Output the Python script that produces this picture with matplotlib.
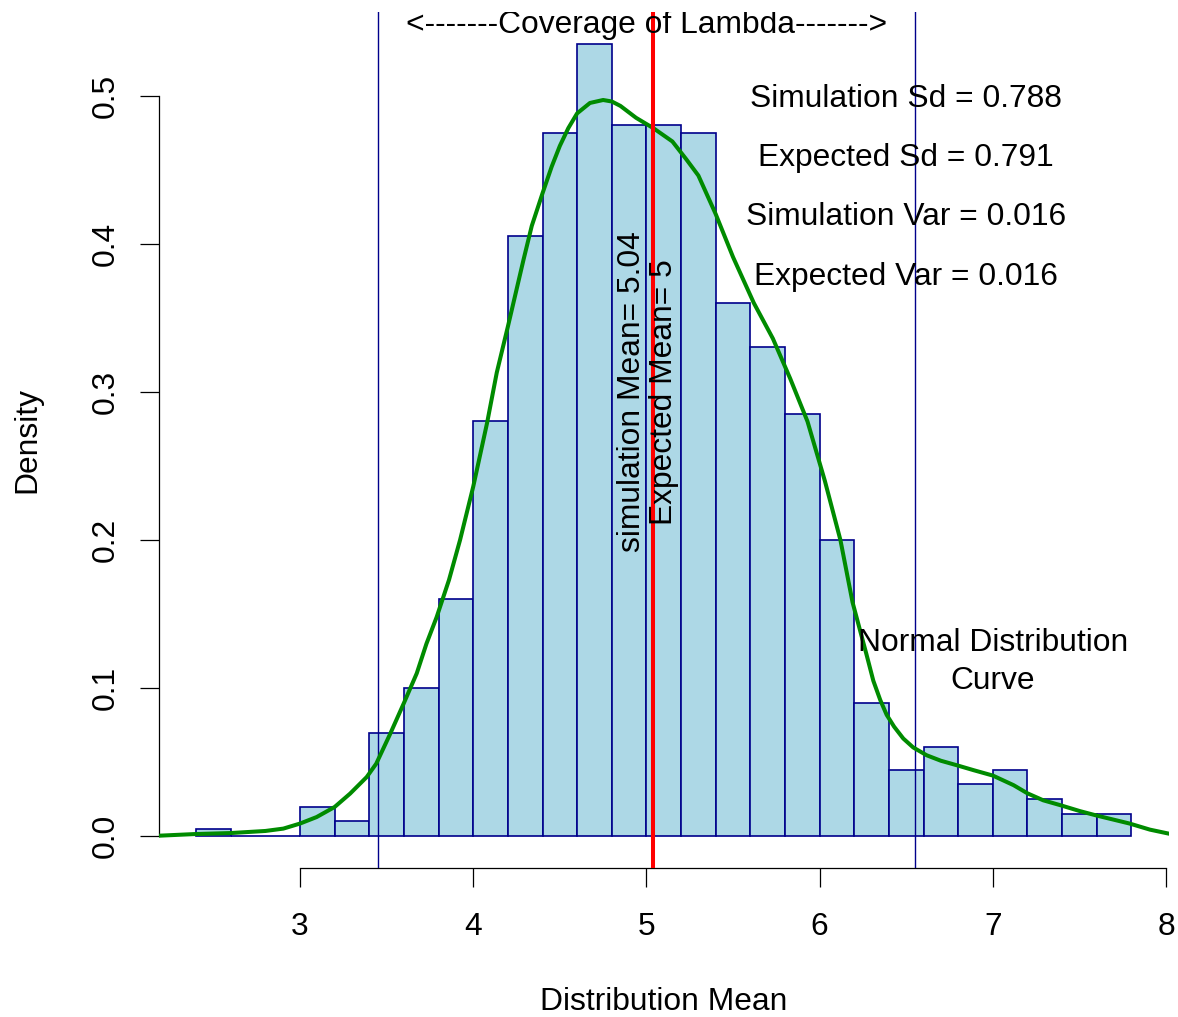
import numpy as np
import matplotlib
matplotlib.use("Agg")
import matplotlib.pyplot as plt
from matplotlib.transforms import offset_copy

plt.rcParams['font.family'] = ['Liberation Sans', 'DejaVu Sans']

# histogram of simulated means (density scale, bin width 0.2)
bin_start = 2.4
bin_width = 0.2
densities = [0.005, 0.0, 0.0, 0.02, 0.01, 0.07, 0.10, 0.16, 0.28, 0.405,
             0.475, 0.535, 0.48, 0.48, 0.475, 0.36, 0.33, 0.285, 0.20, 0.09,
             0.045, 0.06, 0.035, 0.045, 0.025, 0.015, 0.015]

# density curve
curve_x = [2.184, 2.39, 2.6, 2.8, 2.904, 3.0, 3.096, 3.2, 3.289, 3.385,
           3.44, 3.52, 3.6, 3.674, 3.73, 3.789, 3.86, 3.924, 4.0, 4.08,
           4.136, 4.2, 4.29, 4.338, 4.4, 4.453, 4.5, 4.549, 4.6, 4.674,
           4.75, 4.80, 4.85, 4.94, 5.04, 5.15, 5.23, 5.30, 5.40, 5.50,
           5.62, 5.73, 5.83, 5.93, 6.03, 6.12, 6.19, 6.27, 6.31, 6.35,
           6.387, 6.43, 6.483, 6.54, 6.618, 6.70, 6.791, 6.89, 7.0, 7.12,
           7.2, 7.291, 7.39, 7.503, 7.6, 7.79, 7.907, 8.016]
curve_y = [0.0004, 0.0015, 0.0022, 0.0036, 0.0052, 0.0086, 0.013, 0.0198,
           0.0288, 0.040, 0.049, 0.069, 0.09, 0.110, 0.13, 0.148, 0.173,
           0.2, 0.236, 0.279, 0.313, 0.344, 0.389, 0.412, 0.434, 0.452,
           0.466, 0.478, 0.488, 0.495, 0.497, 0.496, 0.493, 0.485, 0.478,
           0.469, 0.457, 0.446, 0.420, 0.391, 0.360, 0.336, 0.309, 0.280,
           0.240, 0.200, 0.158, 0.123, 0.105, 0.092, 0.082, 0.074, 0.066,
           0.060, 0.0547, 0.051, 0.048, 0.0446, 0.041, 0.0345, 0.029,
           0.0243, 0.021, 0.017, 0.014, 0.0086, 0.0045, 0.0018]

sim_mean = 5.04
coverage = [3.45, 6.55]
x_ticks = [3, 4, 5, 6, 7, 8]
y_ticks = [0.0, 0.1, 0.2, 0.3, 0.4, 0.5]

FS = 22.9

fig = plt.figure(figsize=(11.78, 10.17), dpi=100)
ax = fig.add_axes([0.1347, 0.1465, 0.8575, 0.8417])

lefts = bin_start + bin_width * np.arange(len(densities))
ax.bar(lefts, densities, width=bin_width, align='edge', color='#ADD8E6',
       edgecolor='#00008B', linewidth=1.2, zorder=2)

for v in coverage:
    ax.axvline(v, color='#00008B', linewidth=1.0, zorder=3)

ax.plot(curve_x, curve_y, color='#008B00', linewidth=2.9, zorder=4,
        solid_joinstyle='round')
ax.axvline(sim_mean, color='#FF0000', linewidth=2.9, zorder=5)

# R-like limits: 4% padding around data range
lo, hi = lefts[0], lefts[-1] + bin_width
pad = 0.04 * (hi - lo)
ax.set_xlim(lo - pad, hi + pad)
ymax = max(densities)
ax.set_ylim(-0.04 * ymax, ymax * 1.04)


def rtext(x, y, s, rot=0):
    # centre on half the cap height, like R's text()
    lines = s.split('\n')
    n = len(lines)
    for i, line in enumerate(lines):
        shift = -0.358 * FS + ((n - 1) / 2 - i) * 1.2 * FS
        if rot == 90:
            tr = offset_copy(ax.transData, fig=fig, x=-shift, y=0, units='points')
        else:
            tr = offset_copy(ax.transData, fig=fig, x=0, y=shift, units='points')
        ax.text(x, y, line, transform=tr, rotation=rot, rotation_mode='anchor',
                ha='center', va='baseline', fontsize=FS, clip_on=True, zorder=6)


rtext(4.9, 0.3, "simulation Mean= 5.04", rot=90)
rtext(5.08, 0.3, "Expected Mean= 5", rot=90)
rtext(6.5, 0.50, "Simulation Sd = 0.788")
rtext(6.5, 0.46, "Expected Sd = 0.791")
rtext(6.5, 0.42, "Simulation Var = 0.016")
rtext(6.5, 0.38, "Expected Var = 0.016")
rtext(7.0, 0.12, "Normal Distribution\nCurve")
rtext(5.0, 0.55, "<-------Coverage of Lambda------->")

for side in ['top', 'right']:
    ax.spines[side].set_visible(False)
ax.spines['left'].set_bounds(y_ticks[0], y_ticks[-1])
ax.spines['bottom'].set_bounds(x_ticks[0], x_ticks[-1])
for side in ['left', 'bottom']:
    ax.spines[side].set_linewidth(0.9)

ax.set_xticks(x_ticks)
ax.set_xticklabels([str(t) for t in x_ticks])
ax.set_yticks(y_ticks)
ax.set_yticklabels([f"{t:.1f}" for t in y_ticks], rotation=90, va='center')
ax.tick_params(axis='both', direction='out', length=14, width=0.9, labelsize=FS)
ax.tick_params(axis='x', pad=18)
ax.tick_params(axis='y', pad=13.5)

fig.text(27 / 1178, 1 - 440 / 1017, "Density", rotation=90, ha='center',
         va='center', fontsize=FS)
fig.text(663.7 / 1178, (1017 - 1010) / 1017, "Distribution Mean", ha='center',
         va='baseline', fontsize=FS)

fig.savefig("out.png", dpi=100)
